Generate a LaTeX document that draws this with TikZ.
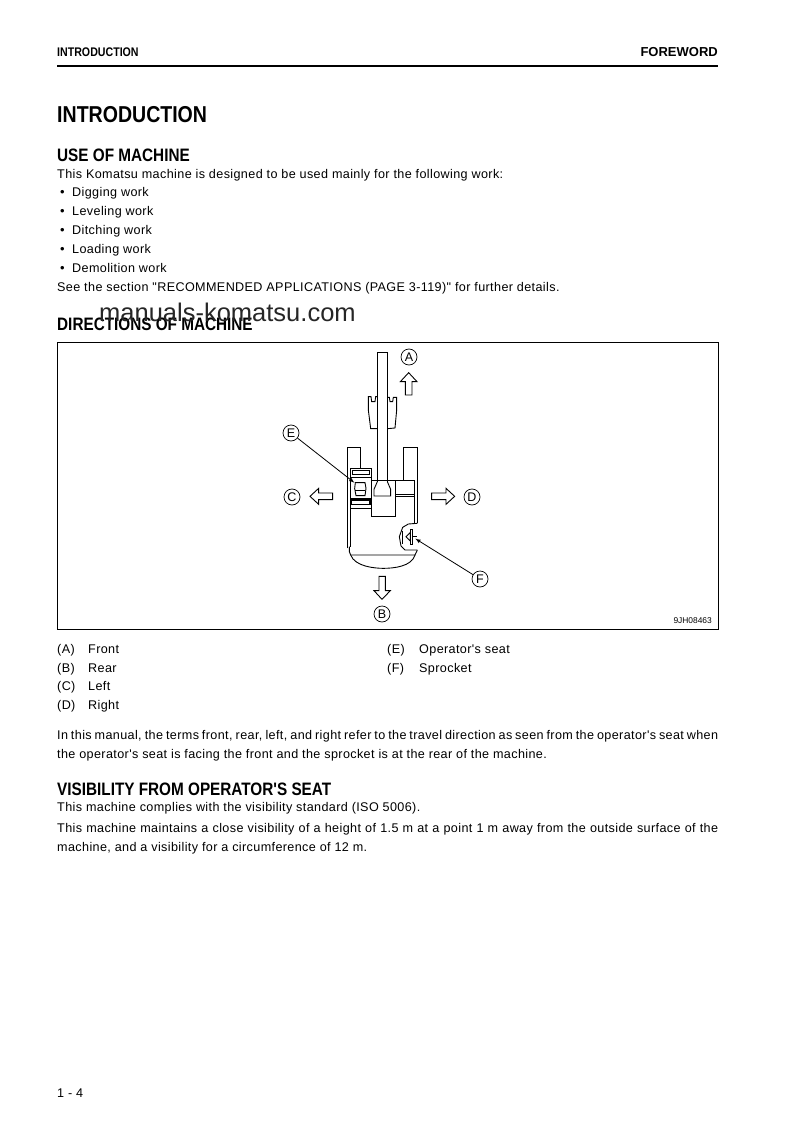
\documentclass[tikz,border=0pt]{standalone}
\usepackage{fontspec}
\setmainfont{Liberation Sans}
\newfontfamily\bodyfont[LetterSpace=3]{Liberation Sans}
\newfontfamily\headfont[FakeStretch=0.85]{Liberation Sans Bold}
\tikzset{
	body/.style={anchor=base west, inner sep=0pt, font=\fontsize{12.6}{14}\bodyfont},
	head/.style={anchor=base west, inner sep=0pt, font=\fontsize{18}{20}\headfont},
	tag/.style={draw, circle, black, line width=0.7pt, inner sep=0pt, minimum size=16pt, font=\fontsize{12.5}{13}\selectfont},
	line/.style={black, line width=0.9pt},
}
\begin{document}
\begin{tikzpicture}[x=1pt,y=-1pt]
		\useasboundingbox (0,0) rectangle (793,1123);
		\fill[white] (0,0) rectangle (793,1123);
		\node[body, font=\fontsize{12.5}{13}\headfont] (hdleft) at (57,57) {INTRODUCTION};
		\node[body, anchor=base east, font=\fontsize{13}{14}\selectfont\bfseries] (hdright) at (718,57) {FOREWORD};
		\draw[black, line width=2pt] (57,66) -- (718,66);
		\node[head, font=\fontsize{23}{25}\headfont] (title) at (57,123) {INTRODUCTION};
		\node[head] (headuse) at (57,162) {USE OF MACHINE};
		\node[body] (usetext) at (57,178.5) {This Komatsu machine is designed to be used mainly for the following work:};
		\foreach \y/\name/\txt in {197/dig/Digging work, 216/lev/Leveling work, 234/dit/Ditching work, 253/loa/Loading work, 272/dem/Demolition work} {
			\node[body] (dot\name) at (60,\y) {\fontsize{13}{13}\selectfont\textbullet};
			\node[body] (\name) at (72,\y) {\txt};
		}
		\node[body] (seetext) at (57,291) {See the section "RECOMMENDED APPLICATIONS (PAGE 3-119)" for further details.};
		\node[head] (headdir) at (57,330) {DIRECTIONS OF MACHINE};
		\node[body, font=\fontsize{25.5}{27}\selectfont, text=black!85] (mark) at (99,321) {manuals-komatsu.com};
		\draw[black, line width=1pt] (57,342) rectangle (718,629);
		\node[body, anchor=base east, font=\fontsize{8.4}{9}\selectfont] (code) at (712,623.5) {9JH08463};

		\begin{scope}[shift={(260,340)},scale=1/3]
			\draw[line] (352,425) -- (352,38) -- (382,38) -- (382,425);
			\draw[line] (352,425) -- (342,448) -- (342,468) -- (392,468) -- (392,448) -- (382,425);
			\draw[line] (352,266) -- (332,266) -- (325,210) -- (325,170) -- (333,170) -- (335,185) -- (345,185) -- (347,170) -- (352,170);
			\draw[line] (382,172) -- (388,172) -- (390,185) -- (398,185) -- (400,172) -- (410,172) -- (410,210) -- (405,264) -- (382,266);
			\draw[line] (262,625) -- (262,323) -- (302,323) -- (302,385);
			\draw[line] (430,420) -- (430,323) -- (472,323) -- (472,550);
			\draw[line] (463,420) -- (463,550);
			\draw[line] (335,420) -- (463,420);
			\draw[line] (405,462) -- (463,462) (405,470) -- (463,470);
			\draw[line] (335,420) -- (335,530) -- (405,530) -- (405,420);
			\draw[line] (272,505) -- (272,385) -- (335,385) -- (335,420);
			\draw[line] (272,620) -- (272,505) -- (335,505);
			\draw[line] (278,392) rectangle (328,403);
			\draw[line] (272,412) -- (335,412);
			\draw[line] (286,428) -- (315,428) -- (318,445) -- (315,467) -- (288,467) -- (284,445) -- cycle;
			\draw[line] (286,452) -- (315,452);
			\draw[line, line width=1.2pt] (275,480) rectangle (330,494);
			\draw[line] (272,475) -- (335,475);
			\draw[line] (268,620) -- (268,635) -- (272,645) -- (465,645) -- (472,630);
			\draw[line] (272,645) .. controls (285,680) and (345,685) .. (370,685) .. controls (400,685) and (455,680) .. (465,645);
			\draw[line] (472,550) -- (445,552) -- (428,562) -- (418,590) -- (423,618) -- (435,630) -- (472,630);
			\draw[line] (451,568) rectangle (456,612);
			\draw[line] (451,577) -- (438,590) -- (451,603) -- cycle;
			\draw[line] (456,590) -- (470,590) (428,572) -- (428,612);
			\draw[line] (436,165) -- (436,125) -- (421,125) -- (446,98) -- (471,125) -- (456,125) -- (456,165) -- cycle;
			\draw[line] (357,709) -- (357,752) -- (342,752) -- (366,778) -- (391,752) -- (376,752) -- (376,709) -- cycle;
			\draw[line] (218,459) -- (176,459) -- (176,445) -- (150,469) -- (176,493) -- (176,479) -- (218,479) -- cycle;
			\draw[line] (515,459) -- (558,459) -- (558,445) -- (584,469) -- (558,493) -- (558,479) -- (515,479) -- cycle;
			\coordinate (seat) at (283,428);
			\coordinate (sprocket) at (466,596);
		\end{scope}

		\node[tag] (tagA) at (409,357) {A};
		\node[tag] (tagB) at (382,614) {B};
		\node[tag] (tagC) at (292,497) {C};
		\node[tag] (tagD) at (472,497) {D};
		\node[tag] (tagE) at (291,433) {E};
		\node[tag] (tagF) at (480,579) {F};
		\draw[line, line width=0.8pt, -latex] (tagE) -- (seat);
		\draw[line, line width=0.8pt, -latex] (tagF) -- (sprocket);

		\foreach \y/\name/\mark/\txt in {653/capA/A/Front, 672/capB/B/Rear, 690/capC/C/Left, 709/capD/D/Right} {
			\node[body] (\name) at (57,\y) {(\mark)};
			\node[body] (\name txt) at (88,\y) {\txt};
		}
		\foreach \y/\name/\mark/\txt in {653/capE/E/Operator's seat, 672/capF/F/Sprocket} {
			\node[body] (\name) at (387,\y) {(\mark)};
			\node[body] (\name txt) at (419,\y) {\txt};
		}
		\node[body] (termsa) at (57,739) {\makebox[661pt][s]{In this manual, the terms front, rear, left, and right refer to the travel direction as seen from the operator's seat when}};
		\node[body] (termsb) at (57,758) {the operator's seat is facing the front and the sprocket is at the rear of the machine.};
		\node[head] (headvis) at (57,795) {VISIBILITY FROM OPERATOR'S SEAT};
		\node[body] (visa) at (57,811.5) {This machine complies with the visibility standard (ISO 5006).};
		\node[body] (visb) at (57,832) {\makebox[661pt][s]{This machine maintains a close visibility of a height of 1.5 m at a point 1 m away from the outside surface of the}};
		\node[body] (visc) at (57,851) {machine, and a visibility for a circumference of 12 m.};
		\node[body] (pageno) at (57,1097) {1 - 4};
		\end{tikzpicture}
\end{document}
